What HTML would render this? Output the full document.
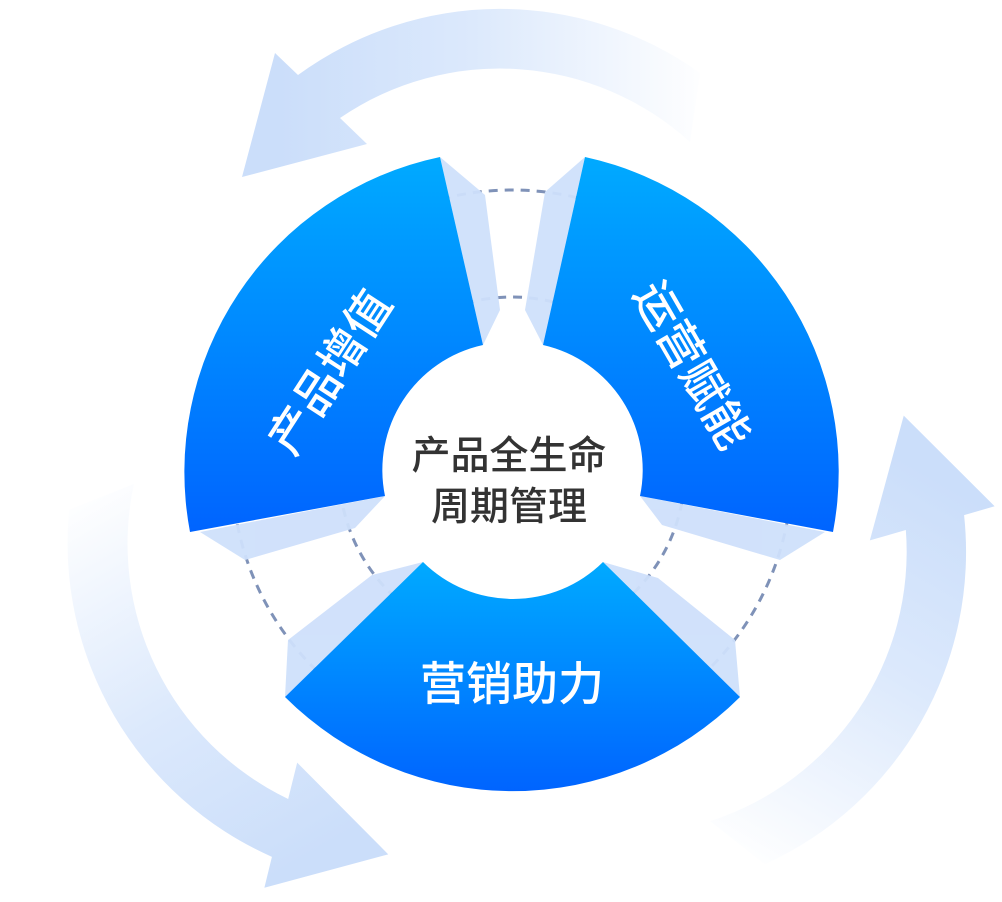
<!DOCTYPE html>
<html><head><meta charset="utf-8"><style>
html,body{margin:0;padding:0;background:#fff;}
svg{display:block;}
</style></head><body>
<svg width="1002" height="902" viewBox="0 0 1002 902" xmlns="http://www.w3.org/2000/svg">
<defs>
<linearGradient id="ag" gradientUnits="userSpaceOnUse" x1="280" y1="0" x2="710" y2="0">
<stop offset="0" stop-color="#cbdefa"/><stop offset="0.45" stop-color="#dce9fc"/><stop offset="1" stop-color="#ffffff"/>
</linearGradient>
<linearGradient id="bg1" x1="0" y1="0" x2="0" y2="1">
<stop offset="0" stop-color="#00aaff"/><stop offset="1" stop-color="#0064ff"/>
</linearGradient>
<g id="arrow">
<path d="M298,75 A343 343 0 0 1 700,73 L690,142 A283 283 0 0 0 340,118 L367,144 L242,177 L275,53 Z" fill="url(#ag)"/>
</g>
</defs>
<use href="#arrow"/>
<g transform="translate(-5 4)"><use href="#arrow" transform="rotate(-120 512 470)"/></g>
<g transform="translate(3 33)"><use href="#arrow" transform="rotate(120 512 470)"/></g>

<circle cx="512" cy="470" r="280" fill="none" stroke="#7f92b8" stroke-width="3" stroke-dasharray="9 7"/>
<circle cx="512" cy="470" r="173" fill="none" stroke="#7f92b8" stroke-width="3" stroke-dasharray="9 7"/>

<g fill="#cfe0fb" opacity="0.95">
<polygon points="440,157 485,195 500,310 483,345"/>
<polygon points="200,532 385,496 355,528 245,560"/>
<polygon points="585,157 545,192 525,310 543,345"/>
<polygon points="640,496 825,532 780,560 662,525"/>
<polygon points="285,697 423,562 372,575 288,640"/>
<polygon points="603,562 740,697 735,640 658,578"/>
</g>

<path d="M190,532 A322 322 0 0 1 440,157 L483,345 A128 128 0 0 0 385,496 Z" fill="url(#bg1)"/>
<path d="M585,157 A322 322 0 0 1 833,532 L640,496 A128 128 0 0 0 543,345 Z" fill="url(#bg1)"/>
<path d="M285,697 L423,562 A128 128 0 0 0 603,562 L740,697 A322 322 0 0 1 285,697 Z" fill="url(#bg1)"/>

<g font-family="'Liberation Sans','Noto Sans CJK SC',sans-serif" font-size="46" font-weight="500" fill="#fff" text-anchor="middle">
<text x="0" y="16" transform="translate(330,372) rotate(-57)">产品增值</text>
<text x="0" y="16" transform="translate(692,365) rotate(60)">运营赋能</text>
<text x="512" y="700">营销助力</text>
</g>
<g font-family="'Liberation Sans','Noto Sans CJK SC',sans-serif" font-size="39" font-weight="500" fill="#333" text-anchor="middle">
<text x="509" y="469">产品全生命</text>
<text x="509" y="520">周期管理</text>
</g>
</svg>
</body></html>
